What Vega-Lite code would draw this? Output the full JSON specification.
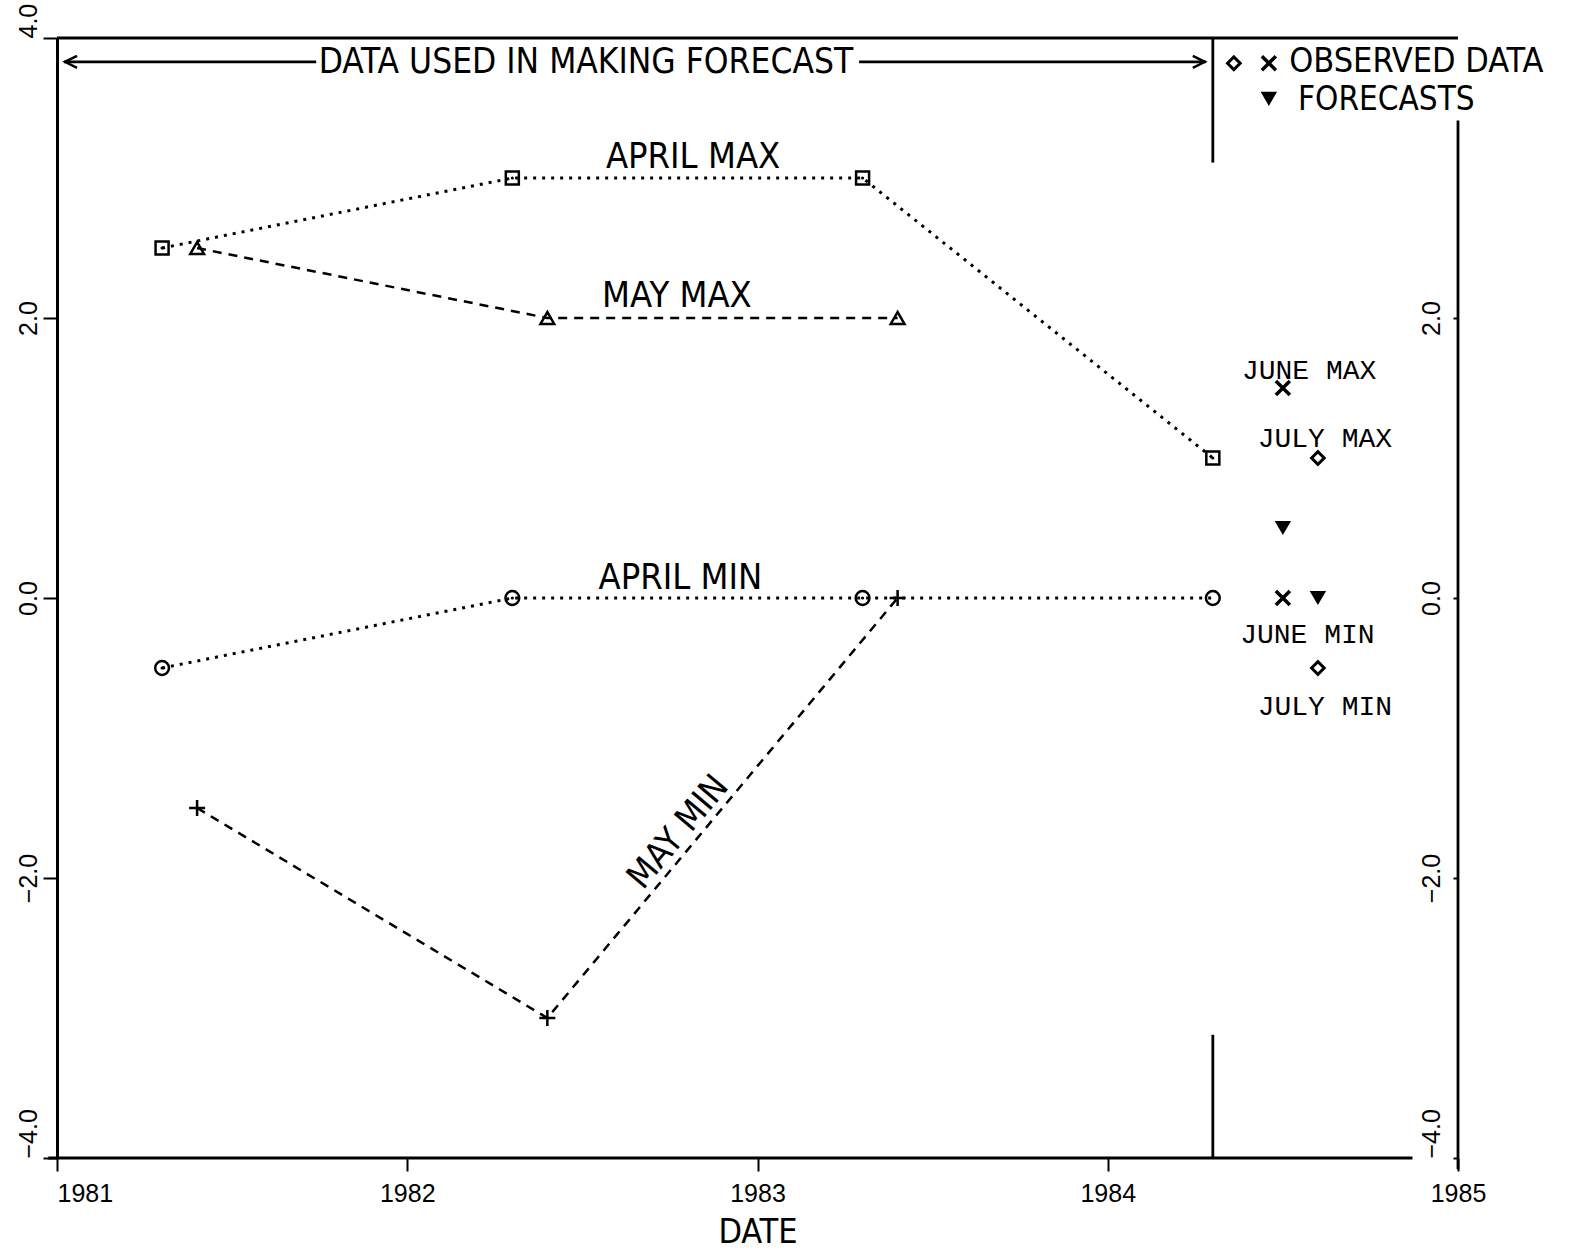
{
  "$schema": "https://vega.github.io/schema/vega-lite/v6.json",
  "width": 1401,
  "height": 1120,
  "autosize": {"type": "none"},
  "padding": {"left": 57, "top": 38, "right": 114, "bottom": 96},
  "background": "white",
  "config": {
    "view": {"stroke": null},
    "font": "Liberation Sans",
    "point": {"opacity": 1},
    "axis": {"labelColor": "black", "tickColor": "black", "domainColor": "black", "titleColor": "black", "grid": false, "labelOverlap": false, "labelFlush": false, "labelBound": false}
  },
  "resolve": {"axis": {"y": "independent"}},
  "datasets": {
    "series": [
      {"series": "April Max", "year": 1981.3, "value": 2.5},
      {"series": "April Max", "year": 1982.3, "value": 3.0},
      {"series": "April Max", "year": 1983.3, "value": 3.0},
      {"series": "April Max", "year": 1984.3, "value": 1.0},
      {"series": "May Max", "year": 1981.4, "value": 2.5},
      {"series": "May Max", "year": 1982.4, "value": 2.0},
      {"series": "May Max", "year": 1983.4, "value": 2.0},
      {"series": "April Min", "year": 1981.3, "value": -0.5},
      {"series": "April Min", "year": 1982.3, "value": 0.0},
      {"series": "April Min", "year": 1983.3, "value": 0.0},
      {"series": "April Min", "year": 1984.3, "value": 0.0},
      {"series": "May Min", "year": 1981.4, "value": -1.5},
      {"series": "May Min", "year": 1982.4, "value": -3.0},
      {"series": "May Min", "year": 1983.4, "value": 0.0}
    ],
    "observed": [
      {"role": "June Max", "year": 1984.5, "value": 1.5},
      {"role": "June Min", "year": 1984.5, "value": 0.0},
      {"role": "July Max", "year": 1984.6, "value": 1.0},
      {"role": "July Min", "year": 1984.6, "value": -0.5},
      {"role": "legend x", "year": 1984.46, "value": 3.82},
      {"role": "legend diamond", "year": 1984.36, "value": 3.82}
    ],
    "forecasts": [
      {"role": "June Max forecast", "year": 1984.5, "value": 0.5},
      {"role": "July Min forecast", "year": 1984.6, "value": 0.0},
      {"role": "legend", "year": 1984.46, "value": 3.565}
    ],
    "rules": [
      {"part": "top frame", "year": 1981, "year2": 1985, "value": 4, "value2": 4},
      {"part": "bottom frame", "year": 1980.975, "year2": 1984.87, "value": -4, "value2": -4},
      {"part": "right frame", "year": 1985, "year2": 1985, "value": -4.08, "value2": 3.41},
      {"part": "separator top", "year": 1984.3, "year2": 1984.3, "value": 3.11, "value2": 4},
      {"part": "separator bottom", "year": 1984.3, "year2": 1984.3, "value": -4, "value2": -3.12},
      {"part": "arrow left", "year": 1981.02, "year2": 1981.74, "value": 3.83, "value2": 3.83},
      {"part": "arrow right", "year": 1983.29, "year2": 1984.28, "value": 3.83, "value2": 3.83}
    ],
    "arrowheads": [
      {"side": "left", "year": 1981.04, "value": 3.83},
      {"side": "right", "year": 1984.26, "value": 3.83}
    ],
    "narrowLabels": [
      {"label": "APRIL MAX", "year": 1982.816, "value": 3.15},
      {"label": "MAY MAX", "year": 1982.77, "value": 2.157},
      {"label": "APRIL MIN", "year": 1982.78, "value": 0.143}
    ],
    "headerLabels": [
      {"label": "DATA USED IN MAKING FORECAST", "year": 1982.51, "value": 3.83}
    ],
    "legendLabels": [
      {"label": "OBSERVED DATA", "year": 1984.518, "value": 3.828}
    ],
    "legendLabels2": [
      {"label": "FORECASTS", "year": 1984.543, "value": 3.555}
    ],
    "monoLabels": [
      {"label": "JUNE MAX", "year": 1984.575, "value": 1.62},
      {"label": "JULY MAX", "year": 1984.62, "value": 1.136},
      {"label": "JUNE MIN", "year": 1984.57, "value": -0.264},
      {"label": "JULY MIN", "year": 1984.62, "value": -0.779}
    ],
    "diagLabels": [
      {"label": "MAY MIN", "year": 1982.773, "value": -1.671}
    ]
  },
  "encoding": {
    "x": {
      "field": "year", "type": "quantitative",
      "scale": {"domain": [1981, 1985], "nice": false, "zero": false},
      "axis": {
        "orient": "bottom", "values": [1981, 1982, 1983, 1984, 1985], "format": "d",
        "domain": false,
        "tickSize": 13, "tickWidth": 2, "labelPadding": 10,
        "labelFont": "Liberation Sans", "labelFontSize": 25,
        "labelAlign": {"condition": {"test": "datum.value == 1981", "value": "left"}, "value": "center"},
        "title": "DATE", "titleFont": "'DejaVu Sans Condensed', 'Liberation Sans', sans-serif", "titleFontSize": 34, "titleFontWeight": "normal", "titlePadding": 9
      }
    },
    "y": {
      "field": "value", "type": "quantitative",
      "scale": {"domain": [-4, 4], "nice": false, "zero": false},
      "axis": null
    }
  },
  "layer": [
    {
      "data": {"name": "series"},
      "transform": [{"filter": "indexof(datum.series, 'April') == 0"}],
      "mark": {"type": "line", "color": "black", "strokeWidth": 3, "strokeDash": [3, 6]},
      "encoding": {
        "y": {
          "field": "value", "type": "quantitative",
          "axis": {
            "orient": "left", "values": [-4, -2, 0, 2, 4], "format": ".1f",
            "labelAngle": 270, "labelBaseline": "alphabetic",
            "labelAlign": {"condition": {"test": "abs(datum.value) == 4", "value": "left"}, "value": "center"},
            "tickSize": 14, "tickWidth": 2, "domainWidth": 3, "labelPadding": 7,
            "labelFont": "Liberation Sans", "labelFontSize": 25, "title": null
          }
        },
        "detail": {"field": "series"}
      }
    },
    {
      "data": {"name": "series"},
      "transform": [{"filter": "indexof(datum.series, 'May') == 0"}],
      "mark": {"type": "line", "color": "black", "strokeWidth": 2.5, "strokeDash": [9, 7]},
      "encoding": {
        "detail": {"field": "series"}
      }
    },
    {
      "data": {"name": "rules"},
      "mark": {"type": "rule", "color": "black", "strokeWidth": 2.8},
      "encoding": {
        "x2": {"field": "year2"},
        "y": {
          "field": "value", "type": "quantitative",
          "axis": {
            "orient": "right", "values": [-4, -2, 0, 2], "format": ".1f",
            "labelAngle": 270, "labelBaseline": "alphabetic",
            "labelAlign": {"condition": {"test": "datum.value == -4", "value": "left"}, "value": "center"},
            "domain": false, "tickSize": -5, "tickWidth": 2, "labelPadding": -14,
            "labelFont": "Liberation Sans", "labelFontSize": 25, "title": null
          }
        },
        "y2": {"field": "value2"}
      }
    },
    {
      "data": {"name": "arrowheads"},
      "transform": [{"filter": "datum.side == 'left'"}],
      "mark": {"type": "point", "shape": "M1,-1L-1,0L1,1", "filled": false, "color": "black", "opacity": 1, "strokeWidth": 2.5, "size": 144}
    },
    {
      "data": {"name": "arrowheads"},
      "transform": [{"filter": "datum.side == 'right'"}],
      "mark": {"type": "point", "shape": "M-1,-1L1,0L-1,1", "filled": false, "color": "black", "opacity": 1, "strokeWidth": 2.5, "size": 144}
    },
    {
      "data": {"name": "series"},
      "transform": [{"filter": "datum.series == 'April Max'"}],
      "mark": {"type": "point", "shape": "square", "filled": false, "color": "black", "opacity": 1, "strokeWidth": 2.5, "size": 169}
    },
    {
      "data": {"name": "series"},
      "transform": [{"filter": "datum.series == 'May Max'"}],
      "mark": {"type": "point", "shape": "triangle-up", "filled": false, "color": "black", "opacity": 1, "strokeWidth": 2.5, "size": 190}
    },
    {
      "data": {"name": "series"},
      "transform": [{"filter": "datum.series == 'April Min'"}],
      "mark": {"type": "point", "shape": "circle", "filled": false, "color": "black", "opacity": 1, "strokeWidth": 2.5, "size": 190}
    },
    {
      "data": {"name": "series"},
      "transform": [{"filter": "datum.series == 'April Max' || (datum.series == 'April Min' && datum.year < 1984)"}],
      "mark": {"type": "point", "shape": "circle", "filled": true, "color": "black", "opacity": 1, "size": 10}
    },
    {
      "data": {"name": "series"},
      "transform": [{"filter": "datum.series == 'May Min'"}],
      "mark": {"type": "point", "shape": "M-1,0L1,0M0,-1L0,1", "filled": false, "color": "black", "opacity": 1, "strokeWidth": 2.5, "size": 256}
    },
    {
      "data": {"name": "observed"},
      "transform": [{"filter": "indexof(datum.role, 'June') == 0 || datum.role == 'legend x'"}],
      "mark": {"type": "point", "shape": "M-1,-1L1,1M-1,1L1,-1", "filled": false, "color": "black", "opacity": 1, "strokeWidth": 3.5, "size": 196}
    },
    {
      "data": {"name": "observed"},
      "transform": [{"filter": "indexof(datum.role, 'July') == 0 || datum.role == 'legend diamond'"}],
      "mark": {"type": "point", "shape": "diamond", "filled": false, "color": "black", "opacity": 1, "strokeWidth": 3, "size": 160}
    },
    {
      "data": {"name": "forecasts"},
      "mark": {"type": "point", "shape": "triangle-down", "filled": true, "color": "black", "opacity": 1, "size": 270}
    },
    {
      "data": {"name": "narrowLabels"},
      "mark": {"type": "text", "font": "'DejaVu Sans Condensed', 'Liberation Sans', sans-serif", "fontSize": 36, "color": "black", "align": "center", "baseline": "middle"},
      "encoding": {"text": {"field": "label"}}
    },
    {
      "data": {"name": "headerLabels"},
      "mark": {"type": "text", "font": "'DejaVu Sans Condensed', 'Liberation Sans', sans-serif", "fontSize": 35, "color": "black", "align": "center", "baseline": "middle"},
      "encoding": {"text": {"field": "label"}}
    },
    {
      "data": {"name": "legendLabels"},
      "mark": {"type": "text", "font": "'DejaVu Sans Condensed', 'Liberation Sans', sans-serif", "fontSize": 34, "color": "black", "align": "left", "baseline": "middle"},
      "encoding": {"text": {"field": "label"}}
    },
    {
      "data": {"name": "legendLabels2"},
      "mark": {"type": "text", "font": "'DejaVu Sans Condensed', 'Liberation Sans', sans-serif", "fontSize": 33, "color": "black", "align": "left", "baseline": "middle"},
      "encoding": {"text": {"field": "label"}}
    },
    {
      "data": {"name": "monoLabels"},
      "mark": {"type": "text", "font": "Liberation Mono", "fontSize": 28, "color": "black", "align": "center", "baseline": "middle"},
      "encoding": {"text": {"field": "label"}}
    },
    {
      "data": {"name": "diagLabels"},
      "mark": {"type": "text", "font": "'DejaVu Sans Condensed', 'Liberation Sans', sans-serif", "fontSize": 35, "color": "black", "align": "center", "baseline": "middle", "angle": -50},
      "encoding": {"text": {"field": "label"}}
    }
  ]
}
